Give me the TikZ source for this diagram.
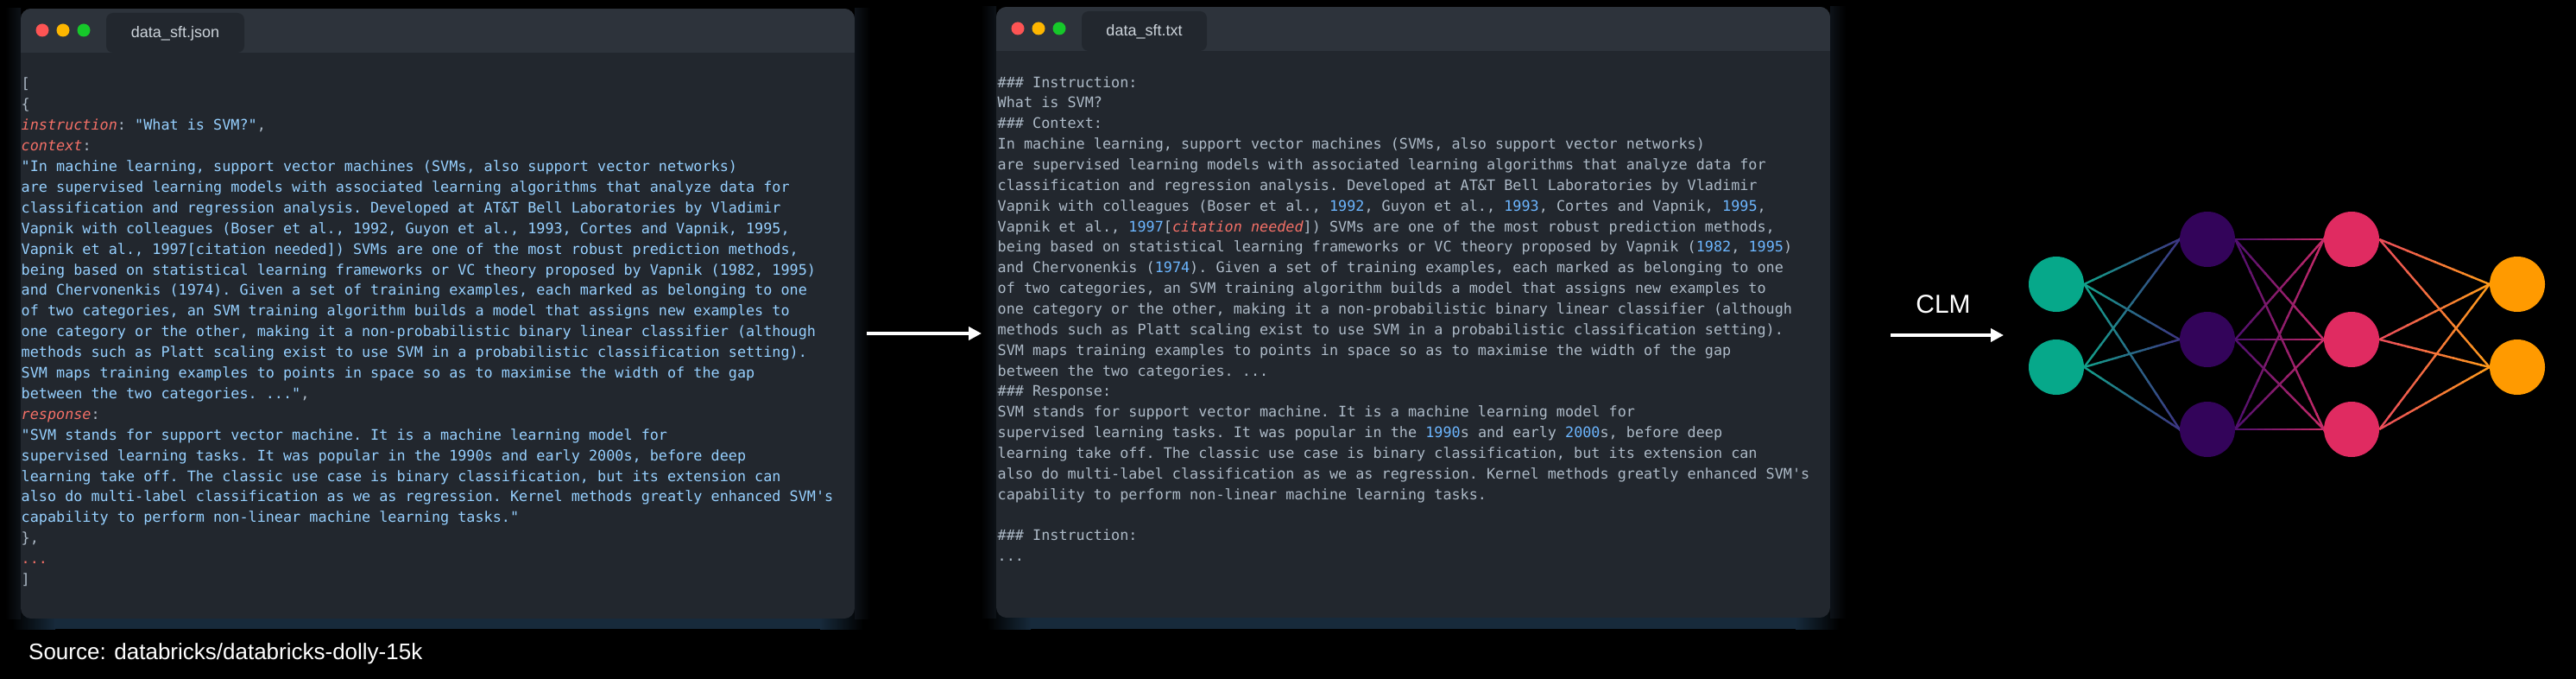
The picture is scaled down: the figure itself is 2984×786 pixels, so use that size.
\documentclass[tikz,border=0pt]{standalone}
\usepackage{fontspec}
\setmainfont{Liberation Sans}
\setmonofont{DejaVu Sans Mono}
\usetikzlibrary{arrows.meta,calc}
\pgfdeclarelayer{back}
\pgfdeclarelayer{edges}
\pgfsetlayers{back,edges,main}
\definecolor{cbody}{HTML}{22272E}
\definecolor{chead}{HTML}{2D333B}
\definecolor{cgray}{HTML}{ADBAC7}
\definecolor{cstr}{HTML}{96D0FF}
\definecolor{ckey}{HTML}{F47067}
\definecolor{cnum}{HTML}{6CB6FF}
\definecolor{ctab}{HTML}{CDD4DB}
\definecolor{dred}{HTML}{FD5454}
\definecolor{dyel}{HTML}{FDB600}
\definecolor{dgrn}{HTML}{16C82A}
\definecolor{glow}{HTML}{172A3B}
\definecolor{side}{HTML}{0D1218}
\definecolor{ngreen}{HTML}{06A88A}
\definecolor{npurple}{HTML}{33045A}
\definecolor{npink}{HTML}{E02B61}
\definecolor{norange}{HTML}{FF9A00}
\definecolor{egA}{HTML}{12A48B}
\definecolor{egB}{HTML}{3D3382}
\definecolor{epA}{HTML}{4B0E6E}
\definecolor{epB}{HTML}{C92A68}
\definecolor{eoA}{HTML}{EA4A5B}
\definecolor{eoB}{HTML}{FF9C1A}
\newcommand\jkey[1]{{\color{ckey}\itshape #1}}
\newcommand\jstr[1]{{\color{cstr}#1}}
\newcommand\nnum[1]{{\color{cnum}#1}}
\newcommand\nnedge[4]{%
  \foreach \i in {0,...,11}{%
    \pgfmathsetmacro\nnA{\i/12}%
    \pgfmathsetmacro\nnB{min(1.02,(\i+1.15)/12)}%
    \pgfmathtruncatemacro\nnP{100-(\i+0.5)*100/12}%
    \draw[nnline,color={#3!\nnP!#4}] ($(#1.east)!\nnA!(#2.west)$) -- ($(#1.east)!\nnB!(#2.west)$);%
  }%
}
\begin{document}
\begin{tikzpicture}[x=1pt,y=-1pt,
  cj/.style={anchor=base west,inner sep=0pt,text=cgray,font=\ttfamily\fontsize{16.8}{20}\selectfont\frenchspacing},
  cjs/.style={cj,text=cstr},
  tabst/.style={fill=cbody,rounded corners=8pt,minimum height=46pt,inner sep=0pt,text=ctab,
    font=\fontsize{18}{20}\selectfont,text height=13pt,text depth=2pt},
  dotst/.style={circle,minimum size=15pt,inner sep=0pt,draw=none},
  nn/.style={circle,minimum size=64pt,inner sep=0pt,draw=none},
  nnline/.style={line width=2.4pt},
  bigarrow/.style={draw=white,line width=4pt,-{Triangle[length=15pt,width=15pt]}}]
\useasboundingbox (0,0) rectangle (2984,786);
\begin{pgfonlayer}{back}
\fill[black] (0,0) rectangle (2984,786);
% panel 1 glow
\shade[left color=black,right color=glow] (14,700) rectangle (64,728);
\fill[glow] (64,700) rectangle (950,728);
\shade[left color=glow,right color=black] (950,700) rectangle (1000,728);
\shade[left color=black,right color=side] (6,10) rectangle (24,716);
\shade[left color=side,right color=black] (990,10) rectangle (1008,716);
% panel 2 glow
\shade[left color=black,right color=glow] (1144,700) rectangle (1194,728);
\fill[glow] (1194,700) rectangle (2080,728);
\shade[left color=glow,right color=black] (2080,700) rectangle (2130,728);
\shade[left color=black,right color=side] (1136,8) rectangle (1154,715);
\shade[left color=side,right color=black] (2120,8) rectangle (2138,715);
\end{pgfonlayer}
% panel 1
\begin{scope}
\clip[rounded corners=12pt] (24,10) rectangle (990,716);
\fill[cbody] (24,10) rectangle (990,716);
\fill[chead] (24,10) rectangle (990,61);
\end{scope}
\node[tabst,minimum width=160pt] (tab1) at (203,38) {data\_sft.json};
\node[dotst,fill=dred] (r1) at (49,35) {};
\node[dotst,fill=dyel] (y1) at (73,35) {};
\node[dotst,fill=dgrn] (g1d) at (97,35) {};
% panel 2
\begin{scope}
\clip[rounded corners=12pt] (1154,8) rectangle (2120,715);
\fill[cbody] (1154,8) rectangle (2120,715);
\fill[chead] (1154,8) rectangle (2120,59);
\end{scope}
\node[tabst,minimum width=145pt] (tab2) at (1325.5,36) {data\_sft.txt};
\node[dotst,fill=dred] (r2) at (1179,33) {};
\node[dotst,fill=dyel] (y2) at (1203,33) {};
\node[dotst,fill=dgrn] (g2d) at (1227,33) {};
% panel 1 text
\node[cj] (j01) at (24.5,102.9) {[};
\node[cj] (j02) at (24.5,126.8) {\{};
\node[cj] (j03) at (24.5,150.7) {\jkey{instruction}: \jstr{"What is SVM?"},};
\node[cj] (j04) at (24.5,174.6) {\jkey{context}:};
\node[cjs] (j05) at (24.5,198.5) {"In machine learning, support vector machines (SVMs, also support vector networks)};
\node[cjs] (j06) at (24.5,222.4) {are supervised learning models with associated learning algorithms that analyze data for};
\node[cjs] (j07) at (24.5,246.3) {classification and regression analysis. Developed at AT\&T Bell Laboratories by Vladimir};
\node[cjs] (j08) at (24.5,270.2) {Vapnik with colleagues (Boser et al., 1992, Guyon et al., 1993, Cortes and Vapnik, 1995,};
\node[cjs] (j09) at (24.5,294.1) {Vapnik et al., 1997[citation needed]) SVMs are one of the most robust prediction methods,};
\node[cjs] (j10) at (24.5,318.0) {being based on statistical learning frameworks or VC theory proposed by Vapnik (1982, 1995)};
\node[cjs] (j11) at (24.5,341.9) {and Chervonenkis (1974). Given a set of training examples, each marked as belonging to one};
\node[cjs] (j12) at (24.5,365.8) {of two categories, an SVM training algorithm builds a model that assigns new examples to};
\node[cjs] (j13) at (24.5,389.7) {one category or the other, making it a non-probabilistic binary linear classifier (although};
\node[cjs] (j14) at (24.5,413.6) {methods such as Platt scaling exist to use SVM in a probabilistic classification setting).};
\node[cjs] (j15) at (24.5,437.5) {SVM maps training examples to points in space so as to maximise the width of the gap};
\node[cj] (j16) at (24.5,461.4) {\jstr{between the two categories. ..."},};
\node[cj] (j17) at (24.5,485.3) {\jkey{response}:};
\node[cjs] (j18) at (24.5,509.2) {"SVM stands for support vector machine. It is a machine learning model for};
\node[cjs] (j19) at (24.5,533.1) {supervised learning tasks. It was popular in the 1990s and early 2000s, before deep};
\node[cjs] (j20) at (24.5,557.0) {learning take off. The classic use case is binary classification, but its extension can};
\node[cjs] (j21) at (24.5,580.9) {also do multi-label classification as we as regression. Kernel methods greatly enhanced SVM's};
\node[cjs] (j22) at (24.5,604.8) {capability to perform non-linear machine learning tasks."};
\node[cj] (j23) at (24.5,628.7) {\},};
\node[cj,text=ckey] (j24) at (24.5,652.6) {...};
\node[cj] (j25) at (24.5,676.5) {]};
% panel 2 text
\node[cj] (t01) at (1155.5,101.1) {\#\#\# Instruction:};
\node[cj] (t02) at (1155.5,124.95) {What is SVM?};
\node[cj] (t03) at (1155.5,148.8) {\#\#\# Context:};
\node[cj] (t04) at (1155.5,172.65) {In machine learning, support vector machines (SVMs, also support vector networks)};
\node[cj] (t05) at (1155.5,196.5) {are supervised learning models with associated learning algorithms that analyze data for};
\node[cj] (t06) at (1155.5,220.35) {classification and regression analysis. Developed at AT\&T Bell Laboratories by Vladimir};
\node[cj] (t07) at (1155.5,244.2) {Vapnik with colleagues (Boser et al., \nnum{1992}, Guyon et al., \nnum{1993}, Cortes and Vapnik, \nnum{1995},};
\node[cj] (t08) at (1155.5,268.05) {Vapnik et al., \nnum{1997}[\jkey{citation needed}]) SVMs are one of the most robust prediction methods,};
\node[cj] (t09) at (1155.5,291.9) {being based on statistical learning frameworks or VC theory proposed by Vapnik (\nnum{1982}, \nnum{1995})};
\node[cj] (t10) at (1155.5,315.75) {and Chervonenkis (\nnum{1974}). Given a set of training examples, each marked as belonging to one};
\node[cj] (t11) at (1155.5,339.6) {of two categories, an SVM training algorithm builds a model that assigns new examples to};
\node[cj] (t12) at (1155.5,363.45) {one category or the other, making it a non-probabilistic binary linear classifier (although};
\node[cj] (t13) at (1155.5,387.3) {methods such as Platt scaling exist to use SVM in a probabilistic classification setting).};
\node[cj] (t14) at (1155.5,411.15) {SVM maps training examples to points in space so as to maximise the width of the gap};
\node[cj] (t15) at (1155.5,435.0) {between the two categories. ...};
\node[cj] (t16) at (1155.5,458.85) {\#\#\# Response:};
\node[cj] (t17) at (1155.5,482.7) {SVM stands for support vector machine. It is a machine learning model for};
\node[cj] (t18) at (1155.5,506.55) {supervised learning tasks. It was popular in the \nnum{1990}s and early \nnum{2000}s, before deep};
\node[cj] (t19) at (1155.5,530.4) {learning take off. The classic use case is binary classification, but its extension can};
\node[cj] (t20) at (1155.5,554.25) {also do multi-label classification as we as regression. Kernel methods greatly enhanced SVM's};
\node[cj] (t21) at (1155.5,578.1) {capability to perform non-linear machine learning tasks.};
\node[cj] (t23) at (1155.5,625.8) {\#\#\# Instruction:};
\node[cj] (t24) at (1155.5,649.65) {...};
% arrows
\coordinate (a1s) at (1004,386);
\coordinate (a1e) at (1137,386);
\draw[bigarrow] (a1s) -- (a1e);
\node[anchor=base,inner sep=0pt,text=white,font=\fontsize{30}{32}\selectfont] (clm) at (2251,362) {CLM};
\coordinate (a2s) at (2190,388);
\coordinate (a2e) at (2321,388);
\draw[bigarrow] (a2s) -- (a2e);
% source
\node[anchor=base west,inner sep=0pt,text=white,font=\fontsize{26}{28}\selectfont] (src) at (33,763) {Source: databricks/databricks-dolly-15k};
% network
\node[nn,fill=ngreen] (g1) at (2382,329) {};
\node[nn,fill=ngreen] (g2) at (2382,425) {};
\node[nn,fill=npurple] (p1) at (2557,277) {};
\node[nn,fill=npurple] (p2) at (2557,393) {};
\node[nn,fill=npurple] (p3) at (2557,497) {};
\node[nn,fill=npink] (k1) at (2724,277) {};
\node[nn,fill=npink] (k2) at (2724,393) {};
\node[nn,fill=npink] (k3) at (2724,497) {};
\node[nn,fill=norange] (o1) at (2916,329) {};
\node[nn,fill=norange] (o2) at (2916,425) {};
\begin{pgfonlayer}{edges}
\foreach \a in {g1,g2}{\foreach \b in {p1,p2,p3}{\nnedge{\a}{\b}{egA}{egB}}}
\foreach \a in {p1,p2,p3}{\foreach \b in {k1,k2,k3}{\nnedge{\a}{\b}{epA}{epB}}}
\foreach \a in {k1,k2,k3}{\foreach \b in {o1,o2}{\nnedge{\a}{\b}{eoA}{eoB}}}
\end{pgfonlayer}
\end{tikzpicture}
\end{document}
